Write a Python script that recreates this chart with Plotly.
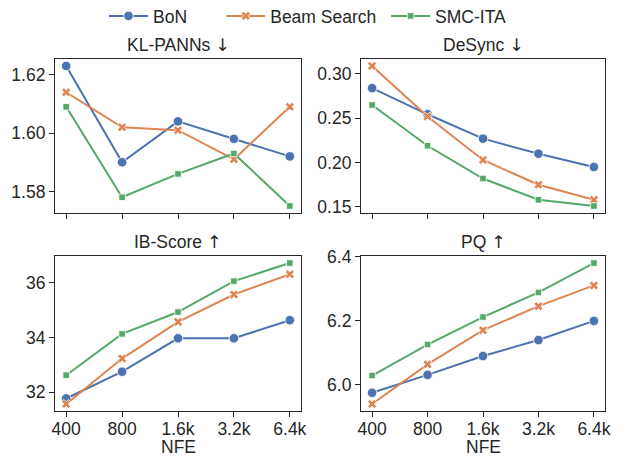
import plotly.graph_objects as go

nfe_labels = ["400", "800", "1.6k", "3.2k", "6.4k"]
series_names = ["BoN", "Beam Search", "SMC-ITA"]

kl_bon = [1.623, 1.590, 1.604, 1.598, 1.592]
kl_beam = [1.614, 1.602, 1.601, 1.591, 1.609]
kl_smc = [1.609, 1.578, 1.586, 1.593, 1.575]

ds_bon = [0.284, 0.2545, 0.227, 0.210, 0.195]
ds_beam = [0.309, 0.252, 0.203, 0.175, 0.158]
ds_smc = [0.265, 0.219, 0.182, 0.158, 0.151]

ib_bon = [31.77, 32.75, 33.97, 33.97, 34.63]
ib_beam = [31.57, 33.23, 34.57, 35.57, 36.31]
ib_smc = [32.62, 34.13, 34.93, 36.06, 36.72]

pq_bon = [5.975, 6.031, 6.090, 6.140, 6.200]
pq_beam = [5.940, 6.064, 6.171, 6.246, 6.311]
pq_smc = [6.029, 6.126, 6.212, 6.289, 6.381]

ARROW = "<span style='font-family:DejaVu Sans'>{}</span>"
panel_titles = ["KL-PANNs " + ARROW.format("↓"), "DeSync " + ARROW.format("↓"),
                "IB-Score " + ARROW.format("↑"), "PQ " + ARROW.format("↑")]
panel_data = [
    (kl_bon, kl_beam, kl_smc),
    (ds_bon, ds_beam, ds_smc),
    (ib_bon, ib_beam, ib_smc),
    (pq_bon, pq_beam, pq_smc),
]
y_tickvals = [
    [1.58, 1.60, 1.62],
    [0.15, 0.20, 0.25, 0.30],
    [32, 34, 36],
    [6.0, 6.2, 6.4],
]
y_tickformat = [".2f", ".2f", "d", ".1f"]

colors = ["#4C72B0", "#DD8452", "#55A868"]
symbols = ["circle", "x", "square"]
msizes = [9.5, 8, 6.5]
NB = "\u00a0"
legend_names = [series_names[0] + NB * 6, series_names[1] + NB * 1, series_names[2]]

W, H = 623, 458
FONT = "Liberation Sans, Arial, Helvetica, DejaVu Sans, sans-serif"
FS = 17.5
INK = "#262626"

# panel pixel boxes (left, right, top, bottom)
boxes = [
    (55, 301, 59, 213),
    (361, 605, 59, 213),
    (55, 301, 256, 411),
    (361, 605, 256, 411),
]

fig = go.Figure()
xs = list(range(len(nfe_labels)))

layout = dict(
    width=W, height=H,
    margin=dict(l=0, r=0, t=0, b=0, autoexpand=False),
    paper_bgcolor="white", plot_bgcolor="white",
    font=dict(family=FONT, size=FS, color=INK),
    showlegend=True,
    legend=dict(orientation="h", x=0.5 - 3.5 / W, xanchor="center", y=1 + 2 / H, yanchor="top",
                font=dict(size=FS, color=INK), itemwidth=39, tracegroupgap=0,
                bgcolor="rgba(0,0,0,0)"),
    annotations=[],
)

for i, (box, data) in enumerate(zip(boxes, panel_data)):
    l, r, t, b = box
    xd = [l / W, r / W]
    yd = [1 - b / H, 1 - t / H]
    xa = "xaxis" if i == 0 else f"xaxis{i+1}"
    ya = "yaxis" if i == 0 else f"yaxis{i+1}"
    xref = "x" if i == 0 else f"x{i+1}"
    yref = "y" if i == 0 else f"y{i+1}"

    for k, vals in enumerate(data):
        fig.add_trace(go.Scatter(
            x=xs, y=vals, mode="lines+markers",
            name=legend_names[k], legendgroup=series_names[k],
            showlegend=(i == 0),
            line=dict(color=colors[k], width=2),
            marker=dict(symbol=symbols[k], size=msizes[k], color=colors[k],
                        line=dict(color="white", width=0.8)),
            xaxis=xref, yaxis=yref,
        ))

    allv = [v for s in data for v in s]
    lo, hi = min(allv), max(allv)
    pad = (hi - lo) * 0.05
    bottom_row = i >= 2
    layout[xa] = dict(
        domain=xd, anchor=yref, range=[-0.2, 4.2],
        tickmode="array", tickvals=xs,
        ticktext=nfe_labels if bottom_row else [""] * 5,
        showticklabels=bottom_row,
        ticks="outside", ticklen=5, tickwidth=1.2, tickcolor=INK,
        ticklabelstandoff=-3,
        showline=True, linecolor=INK, linewidth=1.2, mirror=True,
        showgrid=False, zeroline=False,
        tickfont=dict(size=FS, color=INK),
    )
    layout[ya] = dict(
        domain=yd, anchor=xref, range=[lo - pad, hi + pad],
        tickmode="array", tickvals=y_tickvals[i], tickformat=y_tickformat[i],
        ticks="outside", ticklen=5, tickwidth=1.2, tickcolor=INK,
        showline=True, linecolor=INK, linewidth=1.2, mirror=True,
        showgrid=False, zeroline=False,
        tickfont=dict(size=FS, color=INK),
    )
    layout["annotations"].append(dict(
        text=panel_titles[i], xref="paper", yref="paper",
        x=(xd[0] + xd[1]) / 2, y=yd[1], xanchor="center", yanchor="bottom",
        yshift=2, showarrow=False, font=dict(size=FS, color=INK),
    ))
    if bottom_row:
        layout["annotations"].append(dict(
            text="NFE", xref="paper", yref="paper",
            x=(xd[0] + xd[1]) / 2, y=1 - 447 / H, xanchor="center", yanchor="middle",
            showarrow=False, font=dict(size=FS, color=INK),
        ))

fig.update_layout(**layout)
fig.write_html("out.html", config={"displayModeBar": False},
               post_script="document.body.style.margin='0';")
